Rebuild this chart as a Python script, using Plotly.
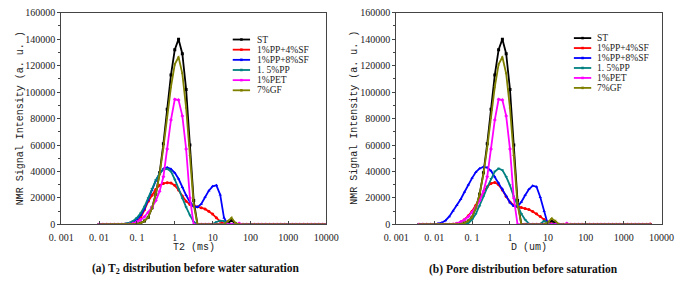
import plotly.graph_objects as go

# ---------------- data ----------------
NAMES = ["ST", "1%PP+4%SF", "1%PP+8%SF", "1. 5%PP", "1%PET", "7%GF"]
COLORS = ["#000000", "#ff0000", "#0000ff", "#008080", "#ff00ff", "#808000"]
SYMBOLS = ["square", "circle", "triangle-up", "triangle-down", "diamond", "triangle-left"]

# sampling grid (log10 exponents): T2 from 0.01 to 10000 ms, D from ~0.004 to ~5000 um
T2_EXP = [round(-2.0 + 0.1 * i, 1) for i in range(61)]
D_EXP = [round(-2.4 + 0.1 * i, 1) for i in range(62)]
T2_ACTIVE_START = -1.5   # first exponent of the listed values below (T2 panel)
D_ACTIVE_START = -2.4    # first exponent of the listed values below (D panel)

# (a) T2 distribution, exponents -1.5 ... 1.8
ST_T2 = [0, 0, 0, 0, 100, 400, 1000, 2500, 5500, 12500, 23000, 39000, 61000, 87000, 113000,
         132000, 140000, 129000, 102000, 60000, 18000, 0, 0, 0, 0, 0, 0, 0, 0, 1000, 3000, 500, 0, 0]
PP4SF_T2 = [0, 0, 0, 0, 500, 1800, 5000, 11000, 17500, 22000, 26500, 29500, 31000, 31500, 31300,
            29500, 26000, 21500, 17500, 15000, 14000, 13300, 12500, 11700, 10000, 7800, 5000, 2300,
            500, 0, 0, 0, 0, 0]
PP8SF_T2 = [0, 100, 300, 800, 1800, 3800, 7000, 12000, 18500, 26000, 33000, 38500, 42000, 43000,
            41800, 39000, 34500, 28000, 22000, 17000, 13800, 13000, 15500, 20500, 25500, 28800,
            29500, 22500, 5000, 0, 0, 0, 0, 0]
PP15_T2 = [100, 300, 600, 1300, 2600, 5000, 8500, 13500, 20000, 27000, 33500, 38500, 41500, 42000,
           40000, 34000, 26500, 19500, 13000, 7000, 2000, 0, 0, 0, 0, 200, 1800, 2800, 2500, 0, 0,
           0, 0, 0]
PET_T2 = [0, 0, 0, 200, 700, 1800, 3500, 5800, 9000, 13000, 18000, 25000, 36000, 57000, 79000,
          94500, 94000, 82000, 57000, 20000, 0, 0, 0, 0, 0, 0, 0, 0, 0, 0, 0, 0, 800, 0]
GF_T2 = [0, 0, 0, 0, 100, 400, 1000, 2500, 5500, 12500, 23000, 38000, 58000, 81000, 104000,
         121000, 126500, 114000, 88000, 52000, 15000, 0, 0, 0, 0, 0, 0, 0, 0, 2500, 5000, 1000, 0, 0]

# (b) pore-size distribution, exponents -2.4 ... 1.6
ST_D = [0, 0, 0, 0, 0, 0, 0, 0, 0, 0, 100, 400, 1000, 2500, 5500, 12500, 23000, 39000, 61000,
        87000, 113000, 132000, 140000, 129000, 102000, 60000, 18000, 0, 0, 0, 0, 0, 0, 0,
        500, 2500, 1500, 0, 0, 0, 0]
PP4SF_D = [0, 0, 0, 0, 0, 0, 0, 0, 0, 200, 700, 1800, 3800, 6500, 10000, 14500, 19500, 24500,
           28500, 31000, 31700, 30000, 26000, 21000, 17000, 14500, 13300, 12700, 12000, 11200,
           9800, 8000, 6000, 3800, 1800, 400, 0, 0, 0, 0, 0]
PP4SF_D_LAST = 400
PP8SF_D = [0, 50, 100, 200, 300, 600, 1300, 3000, 6000, 10400, 14500, 19000, 24500, 30000, 35000,
           39500, 42300, 43500, 43000, 40500, 36000, 31500, 27000, 21500, 16500, 13800, 13500,
           17000, 22000, 26500, 29300, 28500, 20500, 10000, 0, 0, 0, 0, 0, 0, 0]
PP15_D = [0, 0, 0, 0, 0, 0, 0, 0, 0, 0, 0, 0, 200, 1000, 3500, 8000, 14000, 21000, 28000, 34500,
          40000, 42300, 41000, 36000, 29500, 21000, 14000, 8000, 3500, 500, 0, 0, 500, 2500, 1500,
          0, 0, 0, 0, 0, 0]
PET_D = [0, 0, 0, 0, 0, 0, 0, 0, 0, 200, 700, 1800, 3500, 5800, 9000, 13000, 18000, 25000, 36000,
         57000, 79000, 94500, 94000, 82000, 57000, 20000, 0, 0, 0, 0, 0, 0, 0, 0, 0, 0, 0, 0, 0,
         800, 0]
GF_D = [0, 0, 0, 0, 0, 0, 0, 0, 0, 0, 100, 400, 1000, 2500, 5500, 12500, 23000, 38000, 58000,
        81000, 104000, 121000, 126500, 114000, 88000, 52000, 15000, 0, 0, 0, 0, 0, 0, 0,
        1500, 4500, 2500, 0, 0, 0, 0]

X_TICKS = [0.001, 0.01, 0.1, 1, 10, 100, 1000, 10000]
X_TICKTEXT = ["0. 001", "0. 01", "0. 1", "1", "10", "100", "1000", "10000"]
Y_TICKS = [0, 20000, 40000, 60000, 80000, 100000, 120000, 140000, 160000]
Y_TICKTEXT = ["0", "20000", "40000", "60000", "80000", "100000", "120000", "140000", "160000"]


def full(values, exps, start):
    lead = int(round((start - exps[0]) * 10))
    out = [0] * lead + list(values)
    out += [0] * (len(exps) - len(out))
    return out


T2_X = [10 ** e for e in T2_EXP]
D_X = [10 ** e for e in D_EXP]
series_T2 = [ST_T2, PP4SF_T2, PP8SF_T2, PP15_T2, PET_T2, GF_T2]
series_D = [ST_D, PP4SF_D, PP8SF_D, PP15_D, PET_D, GF_D]

# ---------------- figure ----------------
W, H = 689, 285


def px(x):
    return x / W


def py(y):
    return 1 - y / H


fig = go.Figure()

for i in range(6):
    fig.add_trace(go.Scatter(
        x=T2_X, y=full(series_T2[i], T2_EXP, T2_ACTIVE_START), mode="lines+markers",
        line=dict(color=COLORS[i], width=1.8),
        marker=dict(color=COLORS[i], size=3, symbol=SYMBOLS[i]),
        name=NAMES[i], showlegend=False, xaxis="x", yaxis="y"))
for i in range(6):
    yv = full(series_D[i], D_EXP, D_ACTIVE_START)
    if i == 1:
        yv[-1] = PP4SF_D_LAST
    fig.add_trace(go.Scatter(
        x=D_X, y=yv, mode="lines+markers",
        line=dict(color=COLORS[i], width=1.8),
        marker=dict(color=COLORS[i], size=3, symbol=SYMBOLS[i]),
        name=NAMES[i], showlegend=False, xaxis="x2", yaxis="y2"))

tickfont = dict(family="Liberation Serif", size=10, color="#222")
xcommon = dict(type="log", range=[-3, 4], tickvals=X_TICKS, ticktext=X_TICKTEXT,
               ticks="inside", ticklen=3, tickcolor="#444", showline=True, mirror=True,
               linecolor="#444", linewidth=1, showgrid=False, zeroline=False,
               ticklabelstandoff=4,
               tickfont=dict(family="Liberation Serif", size=10, color="#222"))
ycommon = dict(range=[0, 160000], tickvals=Y_TICKS, ticktext=Y_TICKTEXT, ticks="outside",
               ticklen=3, tickcolor="#444", showline=True, mirror=True, linecolor="#444",
               linewidth=1, showgrid=False, zeroline=False, tickfont=tickfont,
               minor=dict(dtick=10000, ticks="outside", ticklen=2, tickcolor="#444"))

fig.update_layout(
    width=W, height=H, margin=dict(l=0, r=0, t=0, b=0),
    paper_bgcolor="white", plot_bgcolor="white", showlegend=False,
    xaxis=dict(domain=[px(50), px(325)], anchor="y", **xcommon),
    yaxis=dict(domain=[py(228), py(7)], anchor="x", **ycommon),
    xaxis2=dict(domain=[px(397.7), px(673)], anchor="y2", **xcommon),
    yaxis2=dict(domain=[py(228), py(7)], anchor="x2", **ycommon),
)

annotations = []
shapes = []
titlefont = dict(family="Liberation Mono", size=10, color="#222")
# axis titles
annotations.append(dict(x=px(187.5), y=py(252), xref="paper", yref="paper", text="T2 (ms)",
                        showarrow=False, font=titlefont, xanchor="center", yanchor="middle"))
annotations.append(dict(x=px(535), y=py(252), xref="paper", yref="paper", text="D (um)",
                        showarrow=False, font=titlefont, xanchor="center", yanchor="middle"))
for xc in (7.5, 353.5):
    annotations.append(dict(x=px(xc), y=py(117), xref="paper", yref="paper",
                            text="NMR Signal Intensity (a. u. )", textangle=-90,
                            showarrow=False, font=titlefont, xanchor="center", yanchor="middle"))
# captions
capfont = dict(family="Liberation Serif", size=11.5, color="#111")
annotations.append(dict(x=px(189), y=py(275), xref="paper", yref="paper",
                        text="<b>(a) T<sub>2</sub> distribution before water saturation</b>",
                        showarrow=False, font=capfont, xanchor="center", yanchor="middle"))
annotations.append(dict(x=px(530), y=py(275), xref="paper", yref="paper",
                        text="<b>(b) Pore distribution before saturation</b>",
                        showarrow=False, font=capfont, xanchor="center", yanchor="middle"))

# legends (one per panel)
legfont = dict(family="Liberation Serif", size=9.5, color="#222")
for (lx0, lx1, tx, y0, dy) in ((228, 246, 251, 35, 10.6), (582, 600, 604, 33.5, 10.4)):
    for i, name in enumerate(NAMES):
        yy = y0 + dy * i
        shapes.append(dict(type="line", xref="paper", yref="paper", x0=px(lx0), x1=px(lx1),
                           y0=py(yy), y1=py(yy), line=dict(color=COLORS[i], width=1.8)))
        cx = (lx0 + lx1) / 2
        shapes.append(dict(type="rect", xref="paper", yref="paper", x0=px(cx - 1.3),
                           x1=px(cx + 1.3), y0=py(yy + 1.3), y1=py(yy - 1.3),
                           line=dict(width=0), fillcolor=COLORS[i]))
        annotations.append(dict(x=px(tx), y=py(yy), xref="paper", yref="paper", text=name,
                                showarrow=False, font=legfont, xanchor="left",
                                yanchor="middle"))

fig.update_layout(annotations=annotations, shapes=shapes)
fig.write_html("out.html")
